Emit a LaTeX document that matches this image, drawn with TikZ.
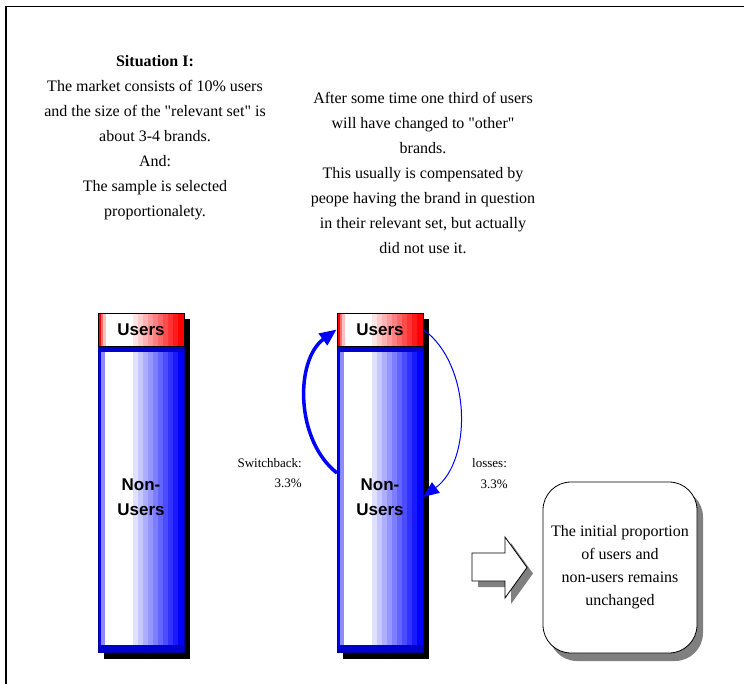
\documentclass[tikz,border=0pt]{standalone}
\usepackage{fontspec}
\setmainfont{Liberation Serif}[Ligatures=TeXOff]
\newfontfamily\arialfont{Liberation Sans}
\usetikzlibrary{arrows.meta}

\newcommand\drawbar[2]{%
  % shadow
  \fill[black] (#1+6,319) rectangle (#1+92,659);
  % blue column
  \fill[blue] (#1,346) rectangle (#1+86,652);
  \fill[blue!45!white] (#1+3,346) rectangle (#1+7,652);
  \fill[white] (#1+7,346) rectangle (#1+35,652);
  \foreach \i in {0,...,9}{%
    \pgfmathsetmacro\p{12+88*\i/9}%
    \fill[blue!\p!white] (#1+35+5*\i,346) rectangle (#1+40.2+5*\i,652);
  }
  \fill[blue!80!black] (#1,346) rectangle (#1+86,352);
  \fill[blue!80!black] (#1,645) rectangle (#1+86,652);
  % red box
  \fill[red] (#1,313) rectangle (#1+86,346);
  \fill[red!55!white] (#1+3,313) rectangle (#1+5,346);
  \fill[red!25!white] (#1+5,313) rectangle (#1+8,346);
  \fill[white] (#1+8,313) rectangle (#1+35,346);
  \foreach \i in {0,...,9}{%
    \pgfmathsetmacro\p{10+90*\i/9}%
    \fill[red!\p!white] (#1+35+5*\i,313) rectangle (#1+40.2+5*\i,346);
  }
  \node[draw=blue!60!black, line width=0.6, minimum width=86, minimum height=306, inner sep=0] (n#2) at (#1+43,499) {};
  \node[barlbl] (nl#2) at (#1+43,497.5) {Non-\\Users};
  \node[draw=black, line width=0.8, minimum width=86, minimum height=33, barlbl] (u#2) at (#1+43,329.5) {Users};
}

\begin{document}
\begin{tikzpicture}[x=1pt,y=-1pt,
  txt/.style={align=center, font=\fontsize{16}{25}\selectfont, inner sep=0},
  lbl/.style={font=\fontsize{13}{20}\selectfont, inner sep=0},
  barlbl/.style={font=\arialfont\bfseries\fontsize{17}{25}\selectfont, align=center, inner sep=0},
  flow/.style={draw=blue}
]
\useasboundingbox (0,0) rectangle (744,684);
\fill[white] (0,0) rectangle (744,684);
% frame
\draw[line width=1.6] (6,690) -- (6,6.5) -- (750,6.5);

% texts
\node[txt] (sit) at (155,138) {\textbf{Situation I:}\\The market consists of 10\% users\\and the size of the "relevant set" is\\about 3-4 brands.\\And:\\The sample is selected\\proportionalety.};
\node[txt] (after) at (423,173) {After some time one third of users\\will have changed to "other"\\brands.\\This usually is compensated by\\peope having the brand in question\\in their relevant set, but actually\\did not use it.};

% bars
\drawbar{98}{1}
\drawbar{337}{2}

% flows
\coordinate (swstart) at (337,473);
\coordinate (lsend) at (423,497);
\draw[flow, line width=3.5, -{Triangle[length=17pt,width=14pt]}] (swstart) .. controls (295,440) and (295,360) .. (u2.west);
\draw[flow, line width=1, -{Triangle[length=16pt,width=13pt]}] (u2.east) .. controls (472,365) and (472,461) .. (lsend);

\node[lbl, anchor=east] (sw) at (302,463) {Switchback:};
\node[lbl, anchor=east] (swp) at (302,483) {3.3\%};
\node[lbl, anchor=west] (ls) at (472,463) {losses:};
\node[lbl, anchor=east] (lsp) at (508,484) {3.3\%};

% block arrow
\fill[gray] (478,559) -- (511,559) -- (511,543) -- (533,573.5) -- (511,604) -- (511,587) -- (478,587) -- cycle;
\draw[fill=white, line width=0.8] (472,553) -- (505,553) -- (505,537) -- (527,567.5) -- (505,598) -- (505,581) -- (472,581) -- cycle;

% result box
\fill[gray, rounded corners=28] (549,489) rectangle (703,661);
\node[draw, fill=white, rounded corners=28, minimum width=154, minimum height=171, line width=0.8, align=center, font=\fontsize{16}{23}\selectfont] (res) at (620,567.5) {The initial proportion\\of users and\\non-users remains\\unchanged};
\end{tikzpicture}
\end{document}
